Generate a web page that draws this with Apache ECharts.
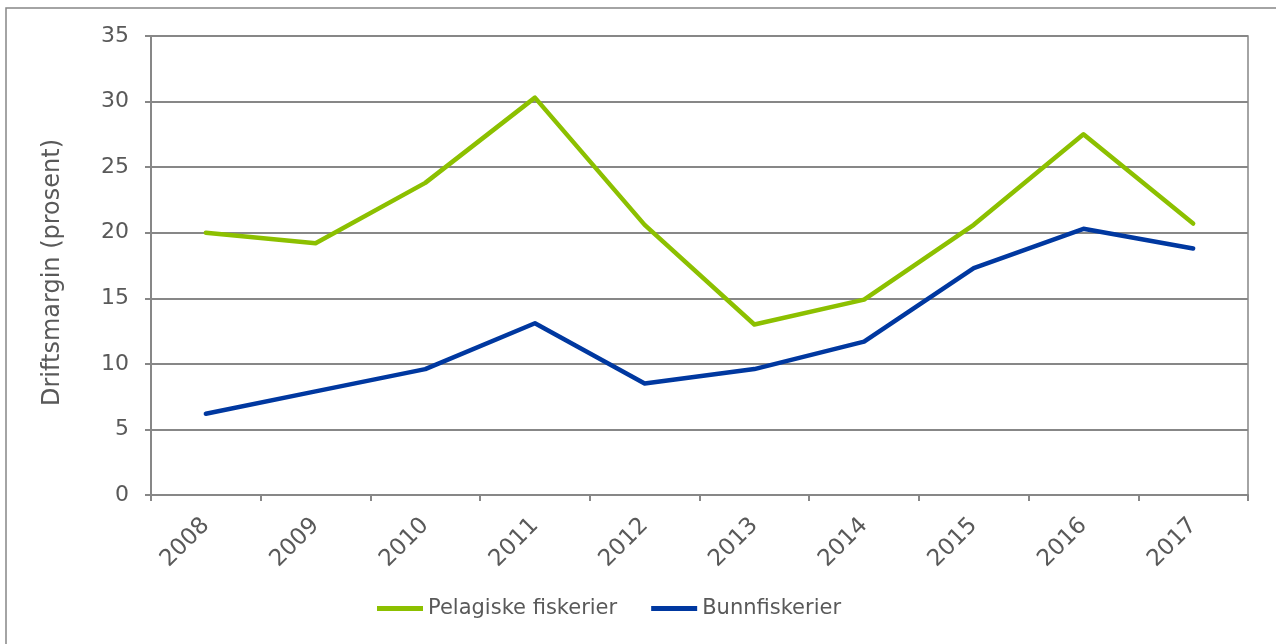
<!DOCTYPE html>
<html>
<head>
<meta charset="utf-8">
<script src="https://cdn.jsdelivr.net/npm/echarts@6/dist/echarts.min.js"></script>
<style>
	html, body { margin: 0; padding: 0; background: #fff; }
	#chart { width: 1276px; height: 644px; }
</style>
</head>
<body>
<div id="chart"></div>
<script>
var years = ['2008', '2009', '2010', '2011', '2012', '2013', '2014', '2015', '2016', '2017'];
var pelagiske = [20.0, 19.2, 23.8, 30.3, 20.6, 13.0, 14.9, 20.6, 27.5, 20.7];
var bunn = [6.2, 7.9, 9.6, 13.1, 8.5, 9.6, 11.7, 17.3, 20.3, 18.8];
var yTicks = [0, 5, 10, 15, 20, 25, 30, 35];

var grey = '#878787';
var txt = '#595959';
var font = 'DejaVu Sans';

let myChart = echarts.init(document.getElementById('chart'));
let option = {
	animation: false,
	textStyle: { fontFamily: font },
	graphic: [{
		type: 'rect',
		shape: { x: 6, y: 8, width: 1300, height: 700 },
		style: { fill: 'none', stroke: grey, lineWidth: 1.5 }
	}],
	grid: {
		left: 151,
		right: 28,
		top: 36,
		bottom: 149,
		show: true,
		borderColor: grey,
		borderWidth: 1.5
	},
	legend: {
		left: 377,
		top: 598,
		padding: 0,
		icon: 'rect',
		itemWidth: 46,
		itemHeight: 5,
		itemGap: 34,
		textStyle: { fontFamily: font, fontSize: 21, color: txt },
		data: ['Pelagiske fiskerier', 'Bunnfiskerier']
	},
	xAxis: {
		type: 'category',
		data: years,
		boundaryGap: true,
		axisLine: { lineStyle: { color: grey, width: 2 } },
		axisTick: { show: true, length: 6, lineStyle: { color: grey, width: 2 } },
		axisLabel: { rotate: 45, fontSize: 23, color: txt, margin: 27 }
	},
	yAxis: {
		type: 'value',
		min: yTicks[0],
		max: yTicks[yTicks.length - 1],
		interval: 5,
		name: 'Driftsmargin (prosent)',
		nameLocation: 'middle',
		nameGap: 86,
		nameTextStyle: { fontSize: 24, color: txt, padding: [0, 14, 0, 0] },
		axisLine: { show: true, lineStyle: { color: grey, width: 2 } },
		axisTick: { show: true, length: 6, lineStyle: { color: grey, width: 2 } },
		axisLabel: { fontSize: 22, color: txt, margin: 22 },
		splitLine: { lineStyle: { color: grey, width: 2 } }
	},
	series: [{
		name: 'Pelagiske fiskerier',
		type: 'line',
		data: pelagiske,
		symbol: 'none',
		color: '#8CC000',
		lineStyle: { width: 4.5, cap: 'round', join: 'round' }
	}, {
		name: 'Bunnfiskerier',
		type: 'line',
		data: bunn,
		symbol: 'none',
		color: '#0038A0',
		lineStyle: { width: 4.5, cap: 'round', join: 'round' }
	}]
};
option && myChart.setOption(option);
</script>
</body>
</html>
